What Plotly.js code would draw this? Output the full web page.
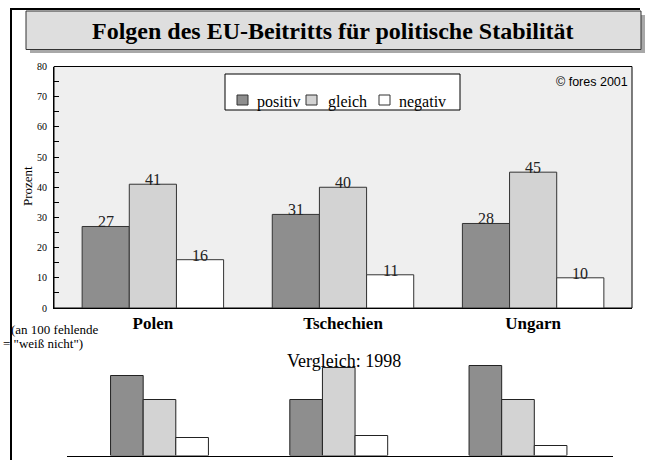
<!DOCTYPE html>
<html>
<head>
<meta charset="utf-8">
<script src="https://cdn.plot.ly/plotly-3.0.1.min.js"></script>
<style>html,body{margin:0;padding:0;background:#fff;overflow:hidden;}#chart{width:650px;height:461px;}</style>
</head>
<body>
<div id="chart"></div>
<script>
// ---- data ----
var categories = ["Polen", "Tschechien", "Ungarn"];
var seriesNames = ["positiv", "gleich", "negativ"];
var positiv2001 = [27, 31, 28];
var gleich2001 = [41, 40, 45];
var negativ2001 = [16, 11, 10];
var positiv1998 = [40, 28, 45];
var gleich1998 = [28, 44, 28];
var negativ1998 = [9, 10, 5];
var yTicks = [0, 10, 20, 30, 40, 50, 60, 70, 80];

// ---- styling ----
var W = 650, H = 461;
function px(x) { return x / W; }
function py(y) { return 1 - y / H; }
var colors = ["#8e8e8e", "#d3d3d3", "#ffffff"];
var serif = "Liberation Serif, Times New Roman, serif";
var idx = [0, 1, 2];

var topWidth = 0.248, topOffsets = [-0.372, -0.124, 0.124];
var lowWidth = 0.182, lowOffsets = [-0.273, -0.091, 0.091];

var series2001 = [positiv2001, gleich2001, negativ2001];
var series1998 = [positiv1998, gleich1998, negativ1998];

var traces = [];
series2001.forEach(function (vals, s) {
  traces.push({
    type: "bar", x: idx, y: vals, name: seriesNames[s],
    width: topWidth, offset: topOffsets[s],
    marker: { color: colors[s], line: { color: "#333", width: 1 } },
    xaxis: "x", yaxis: "y", hoverinfo: "none", showlegend: false
  });
});
series1998.forEach(function (vals, s) {
  traces.push({
    type: "bar", x: idx, y: vals, name: seriesNames[s] + " 1998",
    width: lowWidth, offset: lowOffsets[s],
    marker: { color: colors[s], line: { color: "#222", width: 1 } },
    xaxis: "x2", yaxis: "y2", hoverinfo: "none", showlegend: false
  });
});

function note(x, y, text, font, extra) {
  var a = { xref: "paper", yref: "paper", x: px(x), y: py(y), text: text, showarrow: false,
            xanchor: "center", yanchor: "middle", font: font };
  if (extra) { for (var k in extra) a[k] = extra[k]; }
  return a;
}

var annotations = [];
series2001.forEach(function (vals, s) {
  vals.forEach(function (v, i) {
    annotations.push({
      xref: "x", yref: "y", x: i + topOffsets[s] + topWidth / 2, y: v,
      text: String(v), showarrow: false, xanchor: "center", yanchor: "bottom", yshift: -6,
      font: { family: serif, size: 16, color: "#222" }
    });
  });
});
annotations.push(
  note(333, 31, "<b>Folgen des EU-Beitritts für politische Stabilität</b>", { family: serif, size: 24, color: "#000" }),
  note(630, 82, "© fores 2001", { family: "Liberation Sans, Arial, sans-serif", size: 12.5, color: "#000" }, { xanchor: "right" }),
  note(28, 186, "Prozent", { family: serif, size: 13, color: "#000" }, { textangle: -90 }),
  note(9, 329, "(an 100 fehlende", { family: serif, size: 13, color: "#000" }, { xanchor: "left" }),
  note(1, 343, "= \"weiß nicht\")", { family: serif, size: 13, color: "#000" }, { xanchor: "left" }),
  note(344, 361, "Vergleich: 1998", { family: serif, size: 18, color: "#000" })
);

// manual legend (box, swatches, labels)
var legendSwatchX = [237, 306, 379];
var legendTextX = [255, 326, 397];
var shapes = [
  { type: "line", xref: "paper", yref: "paper", x0: px(10), x1: px(640), y0: py(9), y1: py(9), line: { color: "#000", width: 2 } },
  { type: "line", xref: "paper", yref: "paper", x0: px(11), x1: px(11), y0: py(9), y1: py(460), line: { color: "#000", width: 2 } },
  { type: "rect", xref: "paper", yref: "paper", x0: px(30), x1: px(645), y0: py(15), y1: py(53), fillcolor: "#a8a8a8", line: { color: "rgba(0,0,0,0)", width: 0 }, layer: "below" },
  { type: "rect", xref: "paper", yref: "paper", x0: px(26), x1: px(641), y0: py(11), y1: py(49.5), fillcolor: "#dedede", line: { color: "#333", width: 1 }, layer: "below" },
  { type: "rect", xref: "x domain", yref: "y domain", x0: 0, x1: 1, y0: 0, y1: 1, fillcolor: "#efefef", line: { color: "#000", width: 1 }, layer: "below" },
  { type: "rect", xref: "paper", yref: "paper", x0: px(225), x1: px(460), y0: py(74), y1: py(110), fillcolor: "#ffffff", line: { color: "#000", width: 1 } }
];
seriesNames.forEach(function (n, s) {
  shapes.push({ type: "rect", xref: "paper", yref: "paper",
    x0: px(legendSwatchX[s]), x1: px(legendSwatchX[s] + 11), y0: py(95), y1: py(105),
    fillcolor: colors[s], line: { color: "#333", width: 1 } });
  annotations.push(note(legendTextX[s], 102, n, { family: serif, size: 16, color: "#000" }, { xanchor: "left" }));
});

var layout = {
  width: W, height: H,
  margin: { l: 0, r: 0, t: 0, b: 0 },
  paper_bgcolor: "#ffffff",
  plot_bgcolor: "rgba(0,0,0,0)",
  barmode: "overlay",
  showlegend: false,
  xaxis: {
    domain: [px(54), px(632)], range: [-0.52, 2.52], anchor: "y",
    tickvals: idx, ticktext: categories.map(function (c) { return "<b>" + c + "</b>"; }),
    tickfont: { family: serif, size: 17, color: "#000" },
    showline: true, linecolor: "#000", linewidth: 1, ticks: "", showgrid: false, zeroline: false,
    fixedrange: true
  },
  yaxis: {
    domain: [py(308), py(66.5)], range: [0, 80], anchor: "x",
    tickvals: yTicks, ticks: "inside", ticklen: 5, tickcolor: "#000",
    minor: { dtick: 5, ticks: "inside", ticklen: 5, tickcolor: "#000" },
    tickfont: { family: serif, size: 10, color: "#000" },
    ticklabelstandoff: 4,
    showline: true, linecolor: "#000", linewidth: 1, showgrid: false, zeroline: false,
    fixedrange: true
  },
  xaxis2: {
    domain: [px(67), px(613)], range: [-0.516, 2.53], anchor: "y2",
    showticklabels: false, ticks: "", showline: true, linecolor: "#000", linewidth: 1.5,
    showgrid: false, zeroline: false, fixedrange: true
  },
  yaxis2: {
    domain: [py(455.5), py(355.5)], range: [0, 50], anchor: "x2",
    visible: false, fixedrange: true
  },
  shapes: shapes,
  annotations: annotations
};

Plotly.newPlot("chart", traces, layout, { staticPlot: true, displayModeBar: false });
</script>
</body>
</html>
